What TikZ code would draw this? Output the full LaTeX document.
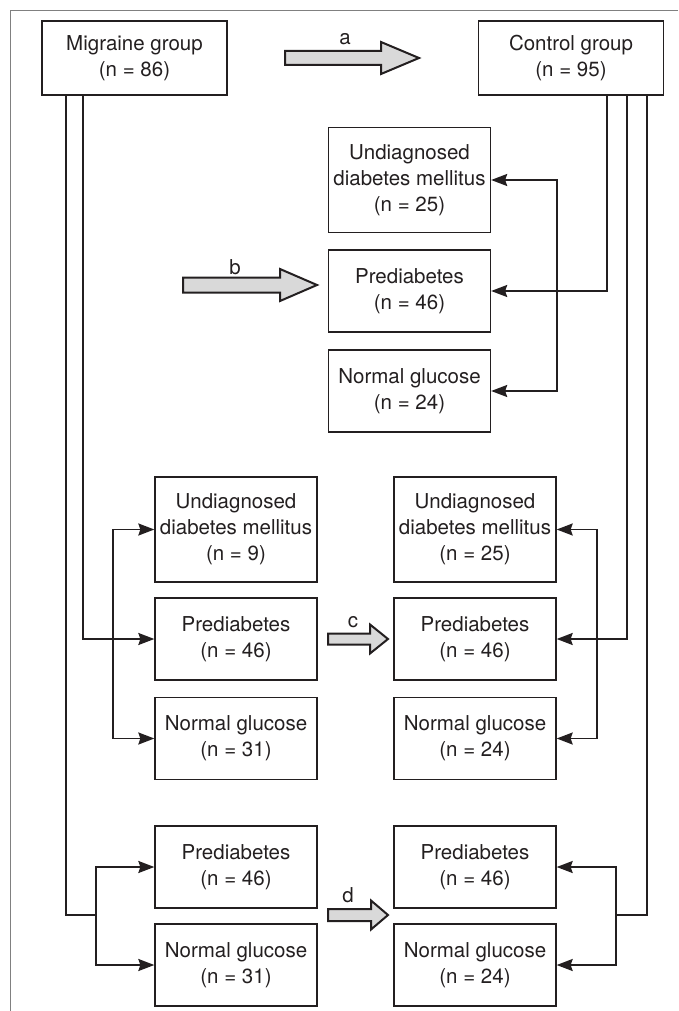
\documentclass[tikz,border=0pt]{standalone}
\usepackage{fontspec}
\setmainfont{TeX Gyre Heros}
\usetikzlibrary{arrows.meta}
\definecolor{ink}{HTML}{231F20}
\definecolor{fatgray}{HTML}{D9D9D9}
\tikzset{box/.style={draw=ink, line width=1.3pt, align=center, inner sep=0pt,
                     text=ink, font=\fontsize{20.5}{26}\selectfont},
         bigbox/.style={box, minimum width=185pt, minimum height=74pt},
         tallbox/.style={box, minimum width=162pt, minimum height=105pt},
         lowbox/.style={box, minimum width=162pt, minimum height=82pt},
         line/.style={draw=ink, line width=1.8pt},
         arrto/.style={line, -{Stealth[length=16pt,width=12pt,inset=2pt]}},
         fat/.style={draw=ink, fill=fatgray, line width=2pt, line join=miter},
         lab/.style={text=ink, anchor=base, inner sep=0pt, font=\fontsize{20.5}{26}\selectfont}}

\begin{document}
\begin{tikzpicture}[x=1pt,y=-1pt]
\useasboundingbox (0,0) rectangle (678,1011);
\draw[gray, line width=0.8pt] (678,10) -- (10,10) -- (10,1011);

% groups
\node[bigbox] (mig) at (134.5,58) {Migraine group\\(n = 86)};
\node[bigbox] (ctl) at (571,58) {Control group\\(n = 95)};

% top group
\node[tallbox] (udm1) at (409.5,180) {Undiagnosed\\diabetes mellitus\\(n = 25)};
\node[lowbox] (pre1) at (409.5,291) {Prediabetes\\(n = 46)};
\node[lowbox] (ng1) at (409.5,391) {Normal glucose\\(n = 24)};

% middle group
\node[tallbox] (udm2) at (236,529.5) {Undiagnosed\\diabetes mellitus\\(n = 9)};
\node[lowbox] (pre2) at (236,639) {Prediabetes\\(n = 46)};
\node[lowbox] (ng2) at (236,738.5) {Normal glucose\\(n = 31)};
\node[tallbox] (udm3) at (475,529.5) {Undiagnosed\\diabetes mellitus\\(n = 25)};
\node[lowbox] (pre3) at (475,639) {Prediabetes\\(n = 46)};
\node[lowbox] (ng3) at (475,738.5) {Normal glucose\\(n = 24)};

% bottom group
\node[lowbox] (pre4) at (236,867) {Prediabetes\\(n = 46)};
\node[lowbox] (ng4) at (236,965) {Normal glucose\\(n = 31)};
\node[lowbox] (pre5) at (475,867) {Prediabetes\\(n = 46)};
\node[lowbox] (ng5) at (475,965) {Normal glucose\\(n = 24)};

% junctions
\coordinate (jt) at (557,292);
\coordinate (jl) at (113,639);
\coordinate (jr) at (597,639);
\coordinate (jm) at (96,915);
\coordinate (jc) at (616,915);

% migraine side
\draw[line] ([xshift=-68.5pt]mig.south) |- (jm);
\draw[arrto] (jm) |- (pre4);
\draw[arrto] (jm) |- (ng4);
\draw[arrto] ([xshift=-51.5pt]mig.south) |- (pre2);
\draw[arrto] (jl) |- (udm2);
\draw[arrto] (jl) |- (ng2);

% control side
\draw[arrto] ([xshift=36pt]ctl.south) |- (pre1);
\draw[arrto] (jt) |- (udm1);
\draw[arrto] (jt) |- (ng1);
\draw[arrto] ([xshift=56pt]ctl.south) |- (pre3);
\draw[arrto] (jr) |- (udm3);
\draw[arrto] (jr) |- (ng3);
\draw[line] ([xshift=76pt]ctl.south) |- (jc);
\draw[arrto] (jc) |- (pre5);
\draw[arrto] (jc) |- (ng5);

% comparison arrows
\draw[fat] (285,51) -- (381,51) -- (381,42) -- (419,58) -- (381,74) -- (381,65) -- (285,65) -- cycle;
\draw[fat] (183,277.5) -- (280,277.5) -- (280,269) -- (317,285) -- (280,301) -- (280,292.5) -- (183,292.5) -- cycle;
\draw[fat] (328,633.5) -- (370,633.5) -- (370,624.5) -- (388,639) -- (370,653.5) -- (370,644.5) -- (328,644.5) -- cycle;
\draw[fat] (328,909) -- (371,909) -- (371,900.5) -- (388,915) -- (371,929.5) -- (371,921) -- (328,921) -- cycle;
\node[lab] (la) at (345,45) {a};
\node[lab] (lb) at (235,274) {b};
\node[lab] (lc) at (353,627) {c};
\node[lab] (ld) at (348,902) {d};
\end{tikzpicture}
\end{document}
